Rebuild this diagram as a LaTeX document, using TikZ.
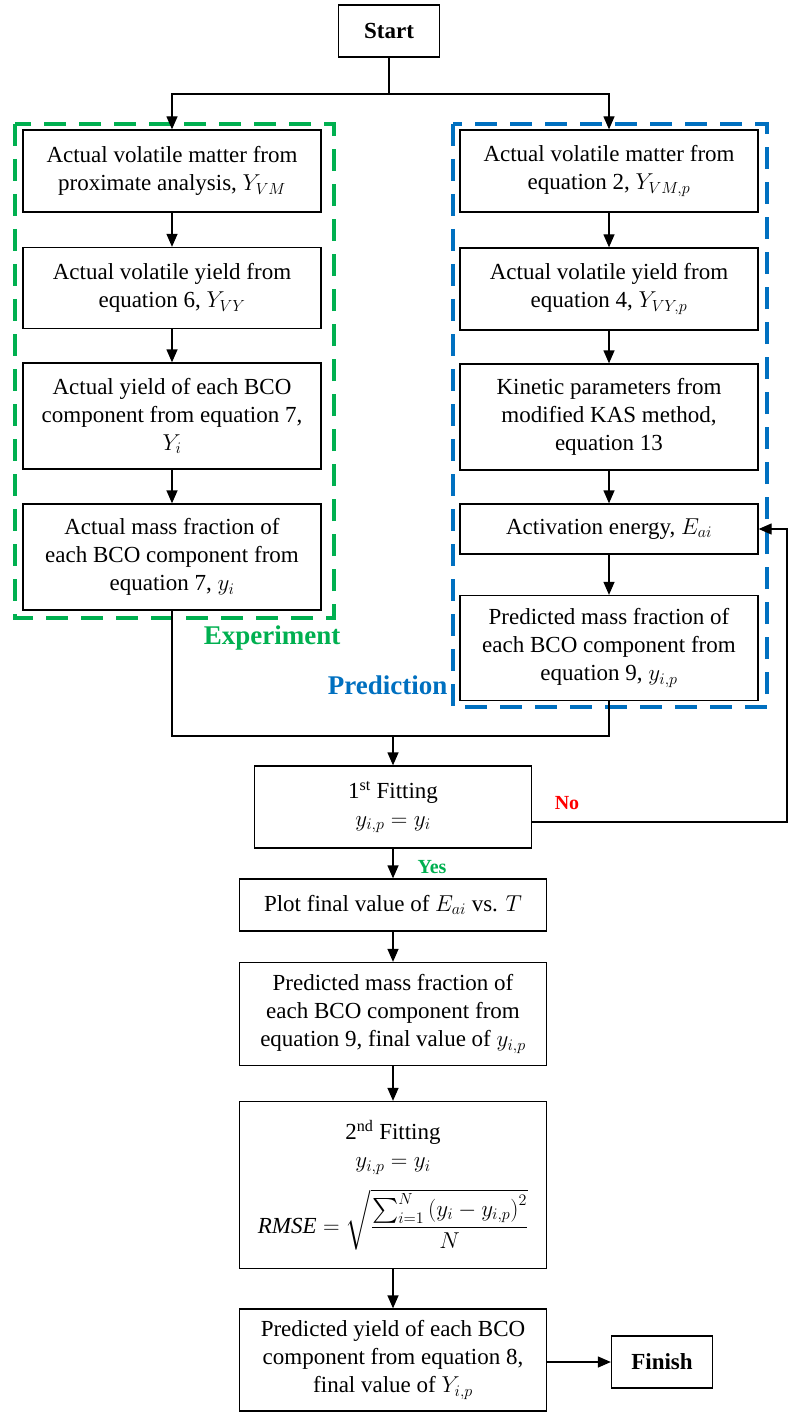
\documentclass[tikz,border=0pt]{standalone}
\usepackage{fix-cm}
\usepackage{amsmath}
\usepackage{fontspec}
\setmainfont{Liberation Serif}
\usetikzlibrary{arrows.meta}
\definecolor{expgreen}{RGB}{0,176,80}
\definecolor{prdblue}{RGB}{0,112,192}
\newcommand{\boxfont}{\fontsize{23}{28}\selectfont}
\tikzset{
  procbox/.style={draw,line width=1.3pt,align=center,inner sep=2pt,font=\boxfont},
  colbox/.style={procbox,minimum width=298pt},
  midbox/.style={procbox,minimum width=307pt},
  termbox/.style={procbox,font=\boxfont\bfseries,minimum width=101pt,minimum height=52pt},
  grpframe/.style={line width=4pt,dash pattern=on 22pt off 13pt},
  grplabel/.style={font=\fontsize{27}{30}\selectfont\bfseries,anchor=east,inner sep=0pt},
  anslabel/.style={font=\fontsize{20}{24}\selectfont\bfseries,inner sep=0pt},
}
\begin{document}
\begin{tikzpicture}[x=1pt,y=-1pt,>={Triangle[length=13pt,width=11pt]},line width=1.3pt]
  \useasboundingbox (0,0) rectangle (789,1412);
  % group frames
  \draw[grpframe,expgreen] (15,124) rectangle (334,618);
  \draw[grpframe,prdblue] (453,124) rectangle (767,707);
  \node[grplabel,text=expgreen] (explab) at (341,638) {Experiment};
  \node[grplabel,text=prdblue] (prdlab) at (448,685) {Prediction};

  \node[termbox] (start) at (389,31) {Start};

  % experiment column
  \node[colbox,minimum height=82pt] (exp1) at (172,171) {Actual volatile matter from\\ proximate analysis, $Y_{VM}$};
  \node[colbox,minimum height=81pt] (exp2) at (172,288) {Actual volatile yield from\\ equation 6, $Y_{VY}$};
  \node[colbox,minimum height=106pt] (exp3) at (172,416) {Actual yield of each BCO\\ component from equation 7,\\ $Y_i$};
  \node[colbox,minimum height=106pt] (exp4) at (172,557) {Actual mass fraction of\\ each BCO component from\\ equation 7, $y_i$};

  % prediction column
  \node[colbox,minimum height=82pt] (prd1) at (609,171) {Actual volatile matter from\\ equation 2, $Y_{VM,p}$};
  \node[colbox,minimum height=82pt] (prd2) at (609,289) {Actual volatile yield from\\ equation 4, $Y_{VY,p}$};
  \node[colbox,minimum height=106pt] (prd3) at (609,417) {Kinetic parameters from\\ modified KAS method,\\ equation 13};
  \node[colbox,minimum height=50pt] (prd4) at (609,529) {Activation energy, $E_{ai}$};
  \node[colbox,minimum height=105pt] (prd5) at (609,648) {Predicted mass fraction of\\ each BCO component from\\ equation 9, $y_{i,p}$};

  % fitting and results
  \node[procbox,minimum width=277pt,minimum height=82pt] (fit1) at (393,807) {1\textsuperscript{st} Fitting\\ $y_{i,p}=y_i$};
  \node[midbox,minimum height=52pt] (plot) at (393,905) {Plot final value of $E_{ai}$ vs. $T$};
  \node[midbox,minimum height=103pt] (pmf) at (393,1014) {Predicted mass fraction of\\ each BCO component from\\ equation 9, final value of $y_{i,p}$};
  \node[midbox,minimum height=167pt] (fit2) at (393,1185) {2\textsuperscript{nd} Fitting\\ $y_{i,p}=y_i$\\[14pt] $\mathit{RMSE}=\sqrt{\dfrac{\sum_{i=1}^{N}\left(y_i-y_{i,p}\right)^2}{N}}$};
  \node[midbox,minimum height=102pt] (last) at (393,1360) {Predicted yield of each BCO\\ component from equation 8,\\ final value of $Y_{i,p}$};
  \node[termbox] (finish) at (662,1362) {Finish};

  % connectors
  \coordinate (split) at (389,94);
  \draw (start.south) -- (split);
  \draw[->] (split) -| (exp1.north);
  \draw[->] (split) -| (prd1.north);
  \foreach \a/\b in {exp1/exp2,exp2/exp3,exp3/exp4,prd1/prd2,prd2/prd3,prd3/prd4,prd4/prd5,fit1/plot,plot/pmf,pmf/fit2,fit2/last}
    \draw[->] (\a.south) -- (\b.north);
  \coordinate (merge) at (393,736);
  \draw (exp4.south) |- (merge) -| (prd5.south);
  \draw[->] (merge) -- (fit1.north);
  \coordinate (loop) at (787,822);
  \draw[->] (fit1.east |- loop) -- (loop) |- (prd4.east);
  \draw[->] (last.east |- finish) -- (finish.west);
  \node[anslabel,text=red] (nolab) at (567,803) {No};
  \node[anslabel,text=expgreen] (yeslab) at (432,867) {Yes};
\end{tikzpicture}
\end{document}
